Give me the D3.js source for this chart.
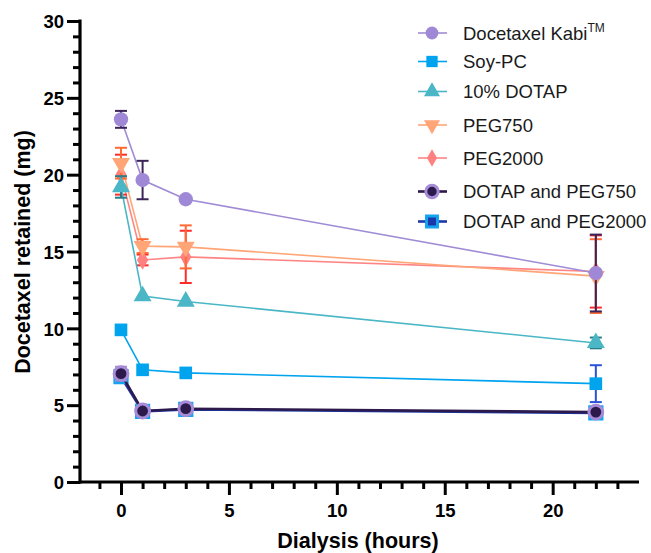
<!DOCTYPE html>
<html><head><meta charset="utf-8">
<script src="https://cdn.jsdelivr.net/npm/d3@7"></script>
<style>body{margin:0;background:#fff}svg{display:block;font-family:"Liberation Sans",Arial,sans-serif}</style>
</head><body><svg id="c" width="651" height="553"></svg>
<script>
const hours = [0, 1, 3, 22];
const seriesNames = ["Docetaxel Kabi", "Soy-PC", "10% DOTAP", "PEG750", "PEG2000", "DOTAP and PEG750", "DOTAP and PEG2000"];
const kabi = [23.6, 19.65, 18.4, 13.6];
const soyPC = [9.9, 7.3, 7.1, 6.4];
const dotap10 = [19.2, 12.1, 11.75, 9.05];
const peg750 = [20.75, 15.35, 15.3, 13.4];
const peg2000 = [20.0, 14.45, 14.65, 13.7];
const dotapPeg750 = [7.05, 4.62, 4.77, 4.55];
const dotapPeg2000 = [6.85, 4.6, 4.72, 4.5];
const kabiErr = [0.55, 1.25, 0, 2.5];
const soyPCErr = [0, 0, 0, 1.2];
const dotap10Err = [0.7, 0, 0, 0.35];
const peg750Err = [1.0, 0.45, 1.4, 2.4];
const peg2000Err = [1.3, 0.35, 1.7, 2.35];
const dotapPeg750Err = [0.45, 0, 0, 0];
const dotapPeg2000Err = [0, 0, 0, 0];
const yTicks = [0, 5, 10, 15, 20, 25, 30];
const xTicks = [0, 5, 10, 15, 20];

const styles = [
  {sym: d3.symbolCircle, size: 160, fill: "#9f88d5", stroke: "none", line: "#a08bd5", lw: 1.6, err: "#3a2458"},
  {sym: d3.symbolSquare, size: 160, fill: "#00a3ee", stroke: "none", line: "#00a3ee", lw: 1.6, err: "#2a52d8"},
  {sym: d3.symbolTriangle, size: 140, fill: "#4ab6c6", stroke: "none", line: "#4ab6c6", lw: 1.6, err: "#2a7d88"},
  {sym: d3.symbolTriangle, size: 140, fill: "#ffa577", stroke: "none", line: "#ffa577", lw: 1.6, err: "#ff6a33", rot: 180},
  {sym: d3.symbolDiamond, size: 110, fill: "#ff8080", stroke: "none", line: "#ff8585", lw: 1.6, err: "#ff2a2a"},
  {sym: d3.symbolCircle, size: 150, fill: "#2c1a4c", stroke: "#a68bd6", sw: 3, line: "#2c1a4c", lw: 2.6, err: "#a68bd6"},
  {sym: d3.symbolSquare, size: 150, fill: "#1c38a8", stroke: "#14a3f0", sw: 3, line: "#1c38a8", lw: 2.6, err: "#1c38a8"}
];
const values = [kabi, soyPC, dotap10, peg750, peg2000, dotapPeg750, dotapPeg2000];
const errs = [kabiErr, soyPCErr, dotap10Err, peg750Err, peg2000Err, dotapPeg750Err, dotapPeg2000Err];

const svg = d3.select("#c");
const x = d3.scaleLinear().domain([-1.9, 24]).range([80, 639]);
const y = d3.scaleLinear().domain([0, 30]).range([482, 21]);

// axes
const yAxis = svg.append("g").attr("transform", "translate(80,0)")
  .call(d3.axisLeft(y).tickValues(d3.range(0, 31, 1)).tickSize(7).tickFormat(""));
yAxis.selectAll(".tick line").attr("stroke-width", 3).attr("x2", d => d % 5 === 0 ? -13 : -7);
yAxis.select(".domain").remove();
yAxis.selectAll(".tick").filter(d => yTicks.includes(d)).append("text")
  .attr("x", -16).attr("dy", "0.36em").attr("text-anchor", "end").attr("fill", "#000")
  .style("font-size", "18.5px").style("font-weight", "bold").text(d => d);

const xAxis = svg.append("g").attr("transform", "translate(0,482)")
  .call(d3.axisBottom(x).tickValues(d3.range(-1, 24, 1)).tickSize(7).tickFormat(""));
xAxis.selectAll(".tick line").attr("stroke-width", 3).attr("y2", d => d % 5 === 0 ? 13 : 7);
xAxis.select(".domain").remove();
xAxis.selectAll(".tick").filter(d => xTicks.includes(d)).append("text")
  .attr("y", 35).attr("text-anchor", "middle").attr("fill", "#000")
  .style("font-size", "18.5px").style("font-weight", "bold").text(d => d);

svg.append("line").attr("x1", x(-1.9)).attr("x2", x(24)).attr("y1", y(0)).attr("y2", y(0))
  .attr("stroke", "#000").attr("stroke-width", 3.2);
svg.append("line").attr("x1", 80).attr("x2", 80).attr("y1", y(30) - 1.5).attr("y2", y(0) + 1.5)
  .attr("stroke", "#000").attr("stroke-width", 3.2);

svg.append("text").attr("transform", "translate(30,252) rotate(-90)").attr("text-anchor", "middle")
  .style("font-size", "21.5px").style("font-weight", "bold").text("Docetaxel retained (mg)");
svg.append("text").attr("x", 358).attr("y", 548).attr("text-anchor", "middle")
  .style("font-size", "21.5px").style("font-weight", "bold").text("Dialysis (hours)");

// series (drawn in reverse so first series is on top)
const line = d3.line().x((d, i) => x(hours[i])).y(d => y(d));
const order = d3.range(values.length).reverse();
order.forEach(k => {
  const st = styles[k], vals = values[k], er = errs[k];
  const g = svg.append("g");
  g.append("path").attr("d", line(vals)).attr("fill", "none").attr("stroke", st.line).attr("stroke-width", st.lw);
  vals.forEach((v, i) => {
    if (er[i] > 0) {
      const cx = x(hours[i]);
      g.append("line").attr("x1", cx).attr("x2", cx).attr("y1", y(v - er[i])).attr("y2", y(v + er[i]))
        .attr("stroke", st.err).attr("stroke-width", 2);
      [v - er[i], v + er[i]].forEach(e => g.append("line").attr("x1", cx - 6).attr("x2", cx + 6)
        .attr("y1", y(e)).attr("y2", y(e)).attr("stroke", st.err).attr("stroke-width", 2));
    }
  });
  g.selectAll("path.m").data(vals).join("path").attr("class", "m")
    .attr("d", d3.symbol(st.sym, st.size))
    .attr("transform", (d, i) => `translate(${x(hours[i])},${y(d)})` + (st.rot ? ` rotate(${st.rot})` : ""))
    .attr("fill", st.fill).attr("stroke", st.stroke).attr("stroke-width", st.sw || 0);
});

// legend
const legY = [33, 61.5, 91.5, 125, 158, 191.5, 221.5];
seriesNames.forEach((name, k) => {
  const st = styles[k];
  const g = svg.append("g").attr("transform", `translate(432,${legY[k]})`);
  g.append("line").attr("x1", -14).attr("x2", 15).attr("stroke", st.line).attr("stroke-width", st.lw);
  g.append("path").attr("d", d3.symbol(st.sym, st.size * 0.8)).attr("transform", st.rot ? `rotate(${st.rot})` : null)
    .attr("fill", st.fill).attr("stroke", st.stroke).attr("stroke-width", st.sw || 0);
  const t = g.append("text").attr("x", 31).attr("dy", "0.36em").style("font-size", "18.5px").attr("fill", "#1a1a1a").text(name);
  if (k === 0) t.append("tspan").attr("dy", "-0.6em").style("font-size", "12px").text("TM");
});
</script></body></html>
